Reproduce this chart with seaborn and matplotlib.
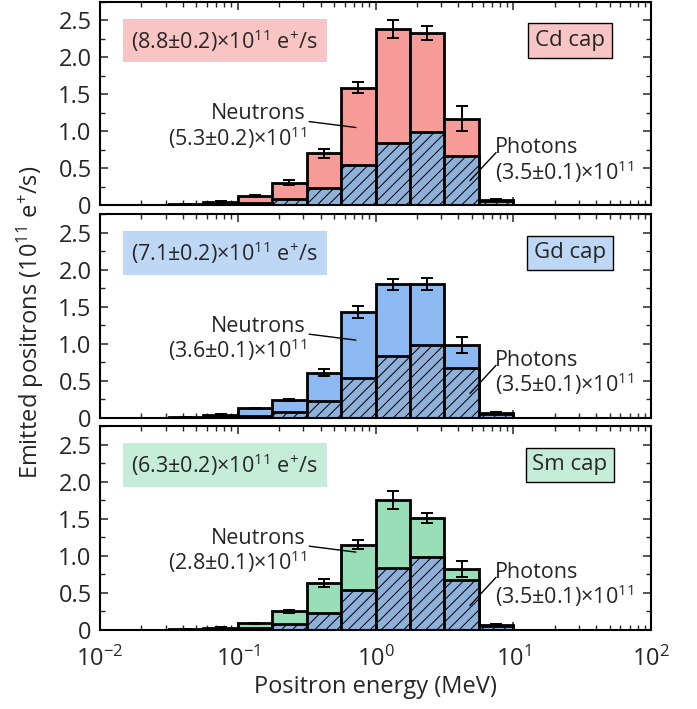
import numpy as np
import matplotlib
matplotlib.use("Agg")
import matplotlib.pyplot as plt
import matplotlib.ticker as mticker
import seaborn as sns

# bin edges are quarter decades, given as log10(E / MeV)
log_edges = [-1.75, -1.5, -1.25, -1.0, -0.75, -0.5, -0.25, 0.0, 0.25, 0.5, 0.75, 1.0]

# photon contribution (same in every panel), 1e11 e+/s
photons = [0.002, 0.005, 0.012, 0.025, 0.08, 0.23, 0.54, 0.84, 0.99, 0.67, 0.05]

# totals (photons + neutrons) and errors per cap
cd_total = [0.005, 0.015, 0.04, 0.12, 0.30, 0.70, 1.59, 2.38, 2.33, 1.17, 0.07]
cd_err = [0.0, 0.005, 0.01, 0.015, 0.035, 0.06, 0.075, 0.12, 0.10, 0.165, 0.01]
gd_total = [0.005, 0.015, 0.04, 0.13, 0.24, 0.61, 1.43, 1.80, 1.81, 0.98, 0.07]
gd_err = [0.0, 0.005, 0.01, 0.01, 0.015, 0.05, 0.085, 0.07, 0.08, 0.11, 0.01]
sm_total = [0.003, 0.01, 0.03, 0.09, 0.25, 0.63, 1.15, 1.75, 1.51, 0.82, 0.07]
sm_err = [0.0, 0.005, 0.01, 0.01, 0.02, 0.055, 0.06, 0.125, 0.065, 0.11, 0.01]

caps = ["Cd cap", "Gd cap", "Sm cap"]
totals = [cd_total, gd_total, sm_total]
errors = [cd_err, gd_err, sm_err]
total_labels = ["(8.8±0.2)", "(7.1±0.2)", "(6.3±0.2)"]
neutron_labels = ["(5.3±0.2)", "(3.6±0.1)", "(2.8±0.1)"]
photon_label = "(3.5±0.1)"

bar_colors = ["#F79B99", "#8DB9F2", "#98DFB8"]
box_colors = ["#F9C4C4", "#BDD7F5", "#C4ECD8"]
photon_color = "#8EB0D9"

sns.set_theme(style="ticks")
plt.rcParams['font.family'] = ['Open Sans', 'DejaVu Sans']
plt.rcParams['mathtext.fontset'] = 'custom'
plt.rcParams['mathtext.rm'] = 'Open Sans'
plt.rcParams['mathtext.it'] = 'Open Sans'
plt.rcParams['hatch.linewidth'] = 0.7
plt.rcParams['hatch.color'] = '#1a1a2e'

fig = plt.figure(figsize=(6.97, 7.09), dpi=100)
left, width = 100 / 697, 551 / 697
panel_pos = [(2, 205), (214, 418), (426, 630)]

centers = 10 ** ((np.array(log_edges[:-1]) + np.array(log_edges[1:])) / 2)

axes = []
for i, (top, bot) in enumerate(panel_pos):
    ax = fig.add_axes([left, 1 - bot / 709, width, (bot - top) / 709])
    axes.append(ax)

    # total bar (neutron colour), photons drawn on top with hatch
    sns.histplot(x=centers, weights=totals[i], bins=log_edges, log_scale=True,
                 color=bar_colors[i], alpha=1, edgecolor='black', linewidth=2.0,
                 ax=ax)
    n_before = len(ax.patches)
    sns.histplot(x=centers, weights=photons, bins=log_edges, log_scale=True,
                 color=photon_color, alpha=1, edgecolor='black', linewidth=2.0,
                 ax=ax)
    for p in ax.patches[n_before:]:
        p.set_hatch('///')

    ax.errorbar(centers[1:], np.array(totals[i])[1:], yerr=np.array(errors[i])[1:],
                fmt='none', ecolor='black', elinewidth=1.4, capsize=4, capthick=1.4,
                zorder=5)

    ax.set_xlim(1e-2, 1e2)
    ax.set_ylim(0, 2.75)
    ax.set_ylabel('')
    ax.set_xlabel('')
    ax.yaxis.set_major_locator(mticker.MultipleLocator(0.5))
    ax.yaxis.set_minor_locator(mticker.MultipleLocator(0.25))
    ax.yaxis.set_major_formatter(mticker.FuncFormatter(
        lambda v, pos: '0' if abs(v) < 1e-9 else f'{v:.1f}'))
    ax.xaxis.set_major_locator(mticker.LogLocator(base=10, numticks=10))
    ax.xaxis.set_minor_locator(mticker.LogLocator(base=10, subs=np.arange(2, 10), numticks=20))
    ax.tick_params(which='both', direction='in', top=True, right=True, labelsize=17)
    ax.tick_params(axis='x', which='major', pad=12)
    ax.tick_params(axis='y', which='major', pad=6)
    ax.tick_params(which='major', length=6, width=1.1)
    ax.tick_params(which='minor', length=3.5, width=1.0)
    for s in ax.spines.values():
        s.set_linewidth(1.5)
        s.set_color('black')
    if i < 2:
        ax.tick_params(axis='x', which='both', labelbottom=False)

    # text boxes
    ax.text(0.057, 0.81, total_labels[i] + r"×10$^{11}$ e$^{+}$/s", transform=ax.transAxes,
            fontsize=15.5, ha='left', va='center',
            bbox=dict(boxstyle='square,pad=0.4', facecolor=box_colors[i], edgecolor='none'))
    ax.text(0.853, 0.81, caps[i], transform=ax.transAxes, fontsize=16, ha='center', va='center',
            bbox=dict(boxstyle='square,pad=0.3', facecolor=box_colors[i], edgecolor='black',
                      linewidth=1.0))

    ax.text(0.374, 0.385, "Neutrons\n" + neutron_labels[i] + r"×10$^{11}$",
            transform=ax.transAxes, fontsize=15.5, ha='right', va='center',
            multialignment='right', linespacing=1.0)
    ax.plot([0.33, 0.72], [1.13, 1.05], color='black', lw=1.0, zorder=6)

    ax.text(7.4, 0.6, "Photons\n" + photon_label + r"×10$^{11}$", fontsize=15.5,
            ha='left', va='center', linespacing=1.0)
    ax.plot([7.5, 4.85], [0.71, 0.33], color='black', lw=1.0, zorder=6)

axes[-1].set_xlabel("Positron energy (MeV)", fontsize=17, labelpad=2)
fig.text(0.043, 0.545, r"Emitted positrons (10$^{11}$ e$^{+}$/s)", rotation=90,
         fontsize=17, ha='center', va='center')

fig.savefig("out.png", dpi=100)
